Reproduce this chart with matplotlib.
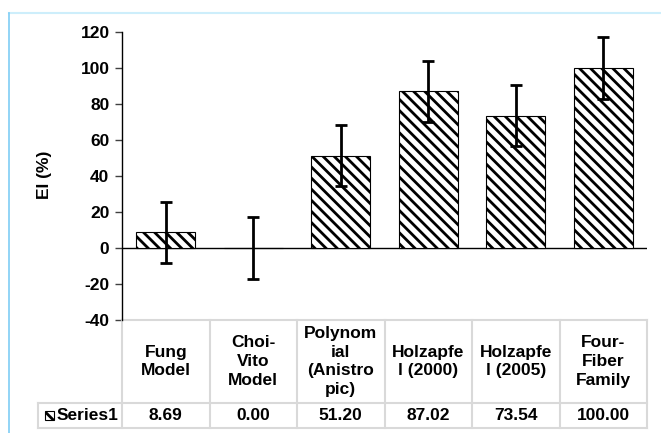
import matplotlib.pyplot as plt
import matplotlib.transforms as mtransforms
from matplotlib.lines import Line2D
from matplotlib.patches import Rectangle

# donnees
categories = ["Fung\nModel", "Choi-\nVito\nModel", "Polynom\nial\n(Anistro\npic)",
              "Holzapfe\nl (2000)", "Holzapfe\nl (2005)", "Four-\nFiber\nFamily"]
values = [8.69, 0.00, 51.20, 87.02, 73.54, 100.00]
errors = [17, 17, 17, 17, 17, 17]
series_name = "Series1"
y_ticks = [-40, -20, 0, 20, 40, 60, 80, 100, 120]

plt.rcParams['font.family'] = ['Liberation Sans', 'DejaVu Sans']
plt.rcParams['font.weight'] = 'bold'
plt.rcParams['hatch.linewidth'] = 2.0
plt.rcParams['hatch.color'] = 'black'

FS = 12.5
W, H = 661, 433
fig = plt.figure(figsize=(W / 100, H / 100), dpi=100)
ax = fig.add_axes([122 / W, 1 - 320 / H, 525 / W, 288 / H])

x = list(range(len(values)))
ax.bar(x, values, width=0.67, color='white', edgecolor='black', linewidth=0.8,
       hatch='\\\\\\', zorder=2)
ax.errorbar(x, values, yerr=errors, fmt='none', ecolor='black', elinewidth=2,
            capsize=4, capthick=2, zorder=3)

ax.set_xlim(-0.5, len(values) - 0.5)
ax.set_ylim(-40, 120)
ax.set_yticks(y_ticks)
ax.set_yticklabels([str(t) for t in y_ticks], fontsize=FS, fontweight='bold')
ax.tick_params(axis='y', length=5, width=1, pad=4, color='#404040')
ax.set_xticks([])
for s in ['top', 'right', 'bottom']:
    ax.spines[s].set_visible(False)
ax.spines['left'].set_linewidth(1)
ax.axhline(0, color='black', lw=1, zorder=1)

ax.set_ylabel("EI (%)", fontsize=FS, fontweight='bold')
ax.yaxis.set_label_coords((52 - 122) / 525, (320 - 175) / 288)

# tableau de donnees sous le graphique
trans = mtransforms.blended_transform_factory(ax.transData, ax.transAxes)
y0, y1, y2 = 0, -83 / 288, -108 / 288
xl = -0.5 - (122 - 38) / 87.5
xr = len(values) - 0.5
grid = dict(color='#d9d9d9', lw=1.5, transform=trans, clip_on=False)
ax.add_line(Line2D([-0.5, xr], [y0, y0], **grid))
ax.add_line(Line2D([xl, xr], [y1, y1], **grid))
ax.add_line(Line2D([xl, xr], [y2, y2], **grid))
for k in range(len(values) + 1):
    ax.add_line(Line2D([k - 0.5, k - 0.5], [y0, y2], **grid))
ax.add_line(Line2D([xl, xl], [y1, y2], **grid))

for i, (c, v) in enumerate(zip(categories, values)):
    ax.text(i, (y0 + y1) / 2, c, transform=trans, ha='center', va='center',
            fontsize=FS, fontweight='bold', clip_on=False, linespacing=1.3)
    ax.text(i, (y1 + y2) / 2, f"{v:.2f}", transform=trans, ha='center', va='center',
            fontsize=FS, fontweight='bold', clip_on=False)

# cle de legende + nom de la serie
key = Rectangle((-0.5 - (122 - 45) / 87.5, (y1 + y2) / 2 - 4.5 / 288), 9 / 87.5, 9 / 288,
                transform=trans, facecolor='white', edgecolor='black', lw=0.8,
                hatch='\\\\\\', clip_on=False)
ax.add_patch(key)
ax.text(-0.5 - (122 - 57) / 87.5, (y1 + y2) / 2, series_name, transform=trans,
        ha='left', va='center', fontsize=FS, fontweight='bold', clip_on=False)

# bordure du graphique
fig.add_artist(Line2D([9 / W, 1], [1 - 13 / H, 1 - 13 / H], color='#cdeefb', lw=1.5,
                      transform=fig.transFigure))
fig.add_artist(Line2D([9 / W, 9 / W], [0, 1 - 13 / H], color='#7fcdf5', lw=1.2,
                      transform=fig.transFigure))

fig.savefig("out.png", dpi=100)
